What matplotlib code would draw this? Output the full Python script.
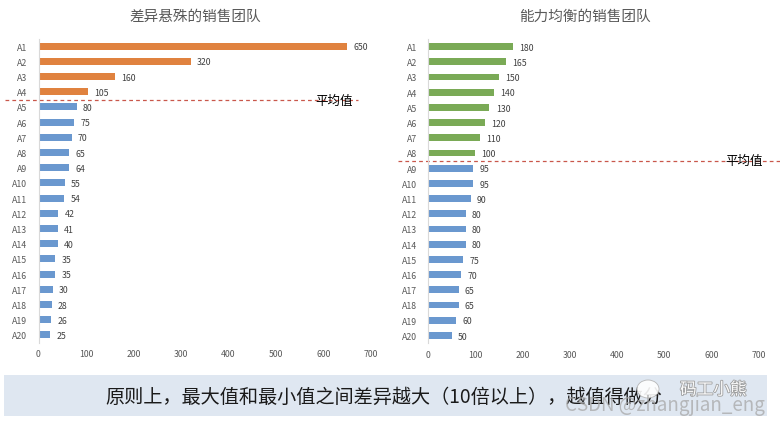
import matplotlib
matplotlib.use("Agg")
import matplotlib.pyplot as plt
import matplotlib.patheffects as pe
from matplotlib.patches import Rectangle, Ellipse
from matplotlib.transforms import blended_transform_factory

plt.rcParams['font.family'] = ['Noto Sans CJK SC', 'DejaVu Sans']

categories = [f"A{i}" for i in range(1, 21)]
left_values = [650, 320, 160, 105, 80, 75, 70, 65, 64, 55, 54, 42, 41, 40, 35, 35, 30, 28, 26, 25]
right_values = [180, 165, 150, 140, 130, 120, 110, 100, 95, 95, 90, 80, 80, 80, 75, 70, 65, 65, 60, 50]
left_title = "差异悬殊的销售团队"
right_title = "能力均衡的销售团队"
x_ticks = [0, 100, 200, 300, 400, 500, 600, 700]
avg_label = "平均值"
footer_text = "原则上，最大值和最小值之间差异越大（10倍以上），越值得做分"

ORANGE = "#E0823F"
GREEN = "#7AAA56"
BLUE = "#6A98CF"
TICK_C = "#595959"

W, H = 780, 427
fig = plt.figure(figsize=(W / 100, H / 100), dpi=100)
fig.patch.set_facecolor("white")


def px_axes(x0, x1, y0, y1):
    return fig.add_axes([x0 / W, 1 - y1 / H, (x1 - x0) / W, (y1 - y0) / H])


def draw_panel(ax, values, top_color, n_top, title, title_x, avg_pos, line_x0, line_x1, txt_x):
    ypos = list(range(len(values)))
    colors = [top_color if i < n_top else BLUE for i in ypos]
    ax.barh(ypos, values, height=0.45, color=colors)
    ax.set_ylim(len(values) - 0.5, -0.5)
    ax.set_xlim(0, 700)
    ax.set_yticks(ypos)
    ax.set_yticklabels(categories)
    ax.set_xticks(x_ticks)
    ax.tick_params(axis='both', length=0, labelsize=6.3, colors=TICK_C)
    ax.tick_params(axis='y', pad=8)
    ax.tick_params(axis='x', pad=5)
    for s in ['top', 'right', 'bottom']:
        ax.spines[s].set_visible(False)
    ax.spines['left'].set_color("#d9d9d9")
    ax.spines['left'].set_linewidth(0.8)
    for y, v in zip(ypos, values):
        ax.annotate(str(v), (v, y), xytext=(4.5, -0.5), textcoords='offset points',
                    ha='left', va='center', fontsize=6.3, color="#404040")
    fig.text(title_x / W, 1 - 17 / H, title, ha='center', va='center',
             fontsize=10.5, color=TICK_C)
    tr = blended_transform_factory(fig.transFigure, ax.transData)
    ax.plot([line_x0 / W, line_x1 / W], [avg_pos, avg_pos], transform=tr,
            color="#C0392B", lw=0.9, ls=(0, (3, 2.5)), clip_on=False, alpha=0.85)
    ax.text(txt_x / W, avg_pos, avg_label, transform=tr, ha='left', va='center',
            fontsize=9, color="black", clip_on=False)


axL = px_axes(38.5, 371, 39.5, 343.5)
draw_panel(axL, left_values, ORANGE, 4, left_title, 195, 3.55, 5, 358, 315)

axR = px_axes(428, 759, 40, 344)
draw_panel(axR, right_values, GREEN, 8, right_title, 585, 7.5, 398, 780, 725)

# footer box
fig.patches.append(Rectangle((4 / W, 1 - 417 / H), (767 - 4) / W, (417 - 376) / H,
                             transform=fig.transFigure, facecolor="#DFE7F1",
                             edgecolor="none", zorder=0))
fig.text(105 / W, 1 - 397 / H, footer_text, ha='left', va='center',
         fontsize=13.8, color="#1a1a1a")

# watermark
fig.patches.append(Ellipse((648 / W, 1 - 390 / H), 22 / W, 18 / H,
                           transform=fig.transFigure, facecolor="white",
                           edgecolor="#b0b0b0", lw=0.6, alpha=0.9, zorder=5))
fig.text(680 / W, 1 - 391 / H, "码工小熊", ha='left', va='center', fontsize=12,
         color="white", alpha=0.95, zorder=6,
         path_effects=[pe.withStroke(linewidth=1.2, foreground="#9a9a9a")])
fig.text(765 / W, 1 - 406 / H, "CSDN @zhangjian_eng", ha='right', va='center',
         fontsize=13.5, color="#a8a8a8", alpha=0.75, zorder=6)

fig.savefig("out.png", dpi=100)
